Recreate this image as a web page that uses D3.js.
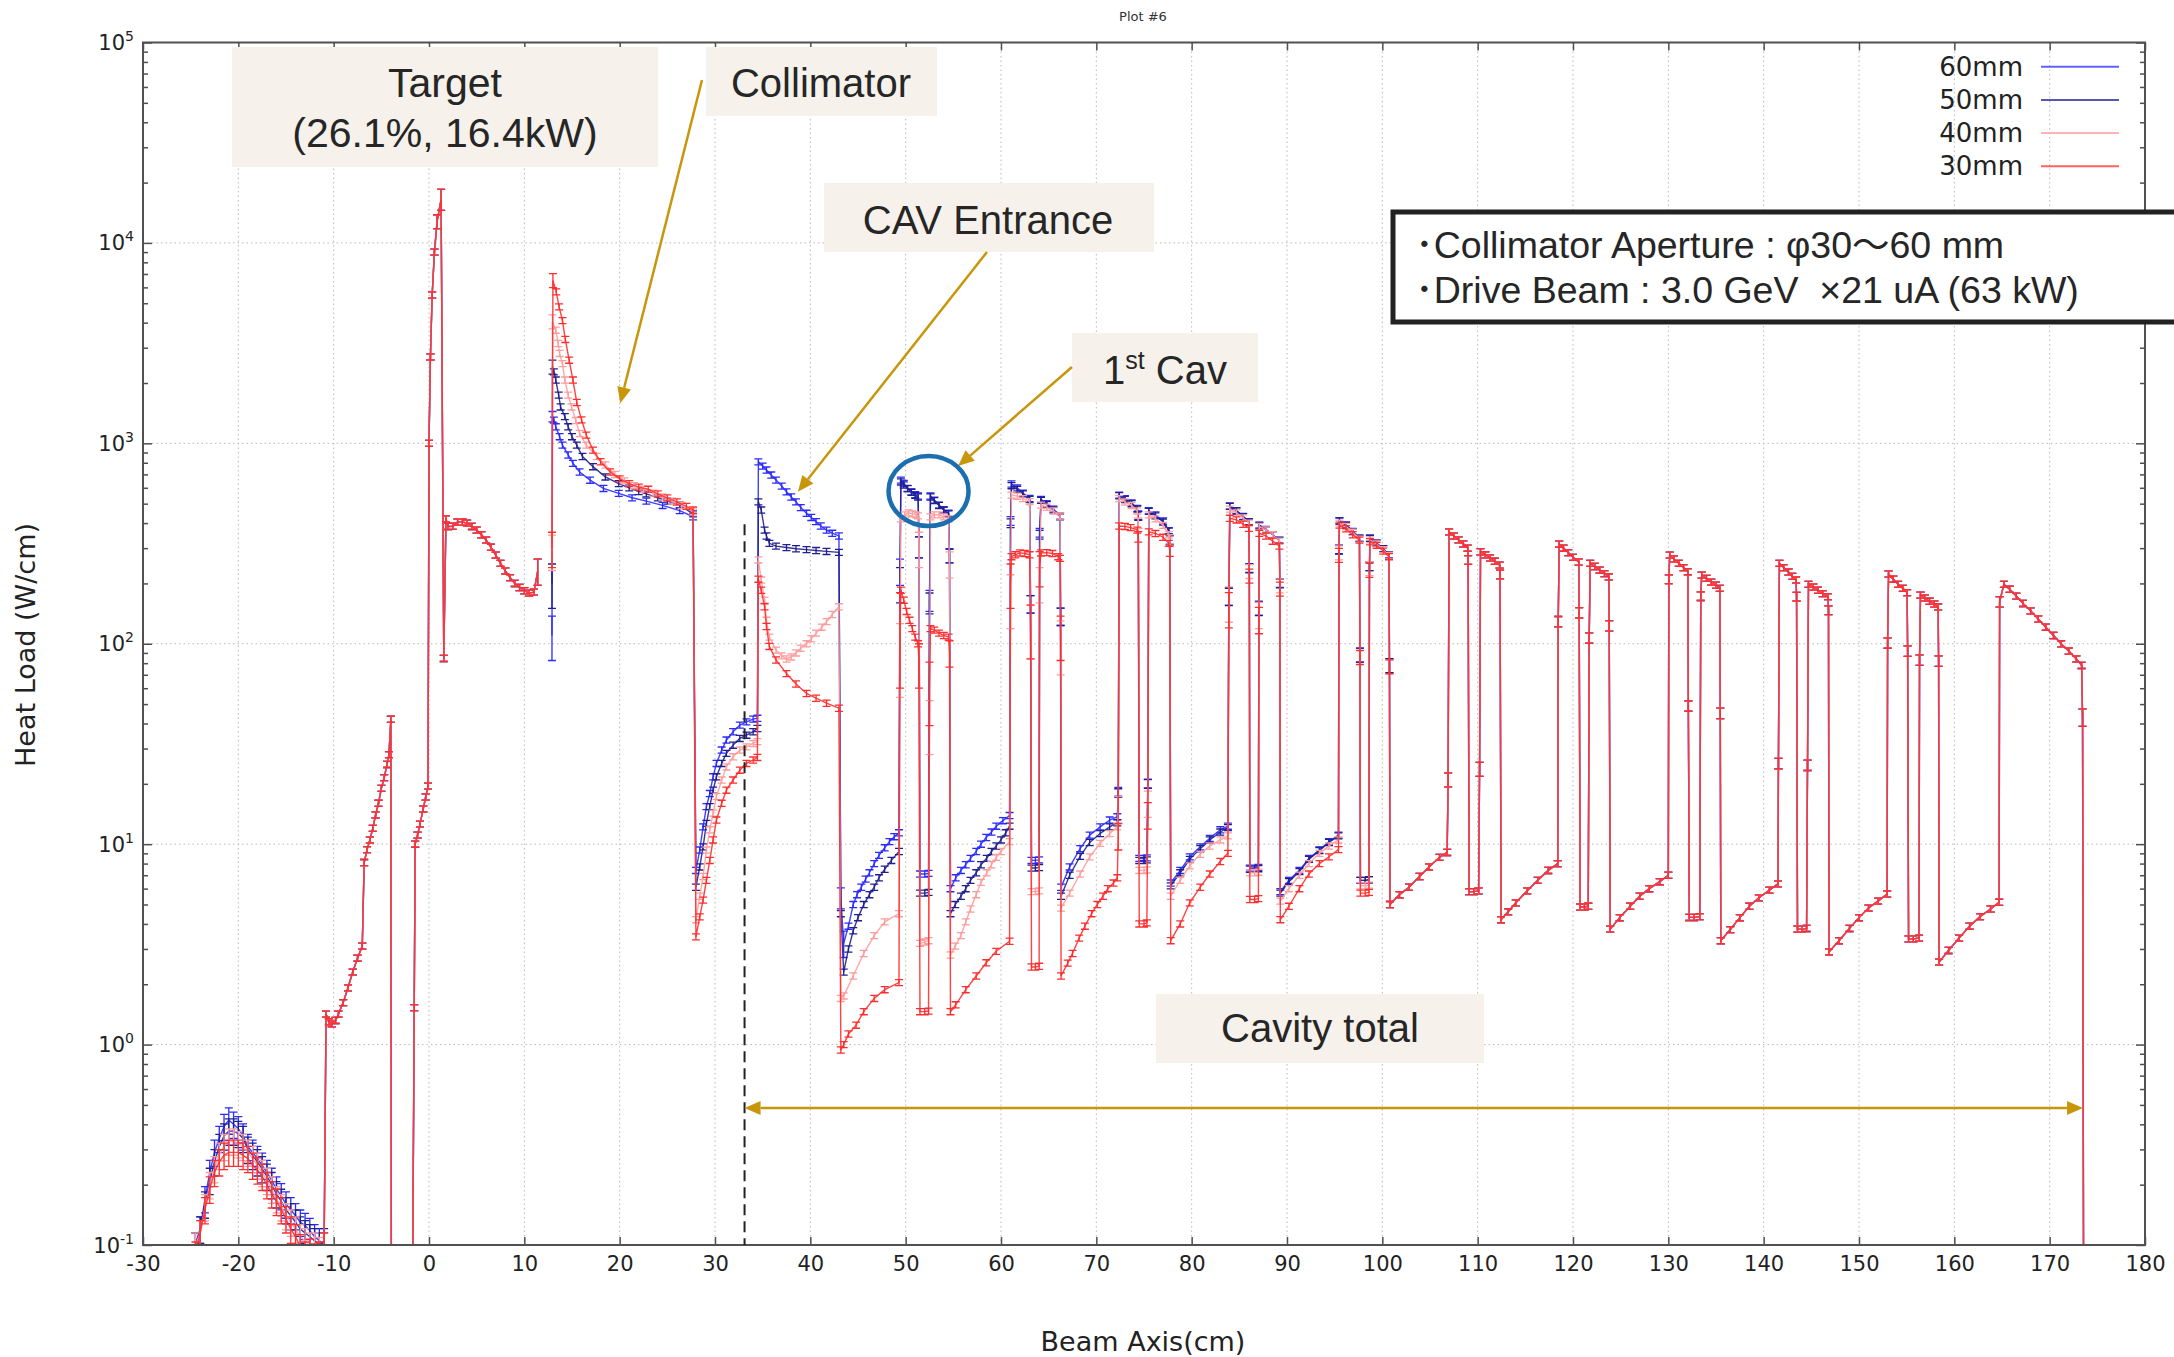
<!DOCTYPE html>
<html>
<head>
<meta charset="utf-8">
<script src="https://cdn.jsdelivr.net/npm/d3@7"></script>
<style>
  html, body { margin: 0; padding: 0; background: #fff; }
  svg { display: block; }
  text { white-space: pre; }
</style>
</head>
<body>
<svg id="chart" width="2174" height="1357"></svg>
<script>
// ---------------------------------------------------------------------------
// Heat load along the beam axis for four collimator apertures.
// Points are [beam axis (cm), heat load (W/cm), optional relative error].
// A value of 0 means no deposit (drawn down to the axis); null breaks the line.
// ---------------------------------------------------------------------------

const apertures = ['60mm', '50mm', '40mm', '30mm'];
const apertureColors = ['#2b2bff', '#20208e', '#ff9c9c', '#ff2e2e'];

// Upstream low-level tail (cm)
const tailX = [-24.5, -24, -23.5, -23, -22.5, -22, -21.5, -21, -20.5, -20, -19.5, -19, -18.5, -18,
               -17.5, -17, -16.5, -16, -15.5, -15, -14.5, -14, -13.5, -13, -12.5, -12, -11.5, -11];
const tail60 = [0.1, 0.12, 0.17, 0.23, 0.29, 0.34, 0.39, 0.42, 0.4, 0.38, 0.35, 0.31, 0.29, 0.27,
                0.25, 0.23, 0.21, 0.19, 0.176, 0.16, 0.15, 0.14, 0.13, 0.125, 0.118, 0.11, 0.105, 0.1];
const tail50 = [0.1, 0.12, 0.16, 0.21, 0.26, 0.31, 0.35, 0.37, 0.37, 0.36, 0.34, 0.3, 0.28, 0.26,
                0.24, 0.22, 0.2, 0.18, 0.165, 0.15, 0.14, 0.13, 0.12, 0.115, 0.11, 0.105, 0.1, 0.105];
const tail40 = [0.1, 0.115, 0.155, 0.2, 0.24, 0.28, 0.31, 0.33, 0.33, 0.32, 0.31, 0.29, 0.27, 0.25,
                0.23, 0.21, 0.19, 0.17, 0.155, 0.14, 0.13, 0.12, 0.11, 0.105, 0.1, 0.1, 0.095, 0.1];
const tail30 = [0.09, 0.115, 0.15, 0.19, 0.23, 0.26, 0.28, 0.29, 0.29, 0.29, 0.28, 0.27, 0.25, 0.237,
                0.22, 0.2, 0.18, 0.165, 0.15, 0.135, 0.12, 0.11, 0.098, 0.09, 0.093, 0.088, 0.09, 0.1];
const tailErr = 0.15;

// Target region, identical for every aperture
const targetPts = [
  [-10.8,1.42],[-10.5,1.3],[-10.2,1.27],[-9.8,1.32],[-9.5,1.42],[-9.0,1.62],[-8.5,1.92],[-8.0,2.3],[-7.5,2.7],[-7.0,3.1],
  [-6.8,8.1],[-6.5,9.4],[-6.2,10.5],[-5.9,12],[-5.6,14],[-5.3,16],[-5.0,19],[-4.7,21.5],[-4.4,25],[-4.2,28],[-4.0,42],
  [-3.95,0],[-1.7,0],[-1.55,1.53],[-1.45,10],[-1.2,11.1],[-0.95,12.6],[-0.6,15],[-0.35,17.2],[-0.1,19.5],
  [0.0,1000],[0.15,2700],[0.33,5500],[0.57,9000],[0.85,12800,0.08],[1.27,16500,0.12],[1.55,84.5],[1.78,420],
  [2.0,385],[2.5,386],[3.0,405],[3.5,405],[4.0,400],[4.5,385],[5.0,369],[5.5,350],[6.0,329],[6.5,303],[7.0,277],
  [7.5,252],[8.0,231],[8.5,214],[9.0,200],[9.5,191],[10.0,184],[10.5,179],[11.0,181],[11.4,230,0.15],[12.0,null]
];

// Collimator, CAV entrance and first five cavities: 60 mm aperture
const body60 = [
  [12.9,110,0.25],[12.95,1360,0.06],[13.1,1306],[13.3,1210],[13.7,1080],[14.0,980],[14.6,875],[15.1,795],[15.8,720],
  [16.9,655],[18.3,596],[19.9,563],[21.3,535],[22.8,515],[24.5,490],[26.3,462],[27.7,430],
  [28.0,7.4],[28.4,9.35],[28.75,12.2],[29.1,15.4],[29.45,17.9],[29.8,21.7],[30.15,25.3],[30.7,29.5],[31.2,33.1],
  [31.9,36.4],[32.6,39.3],[33.3,40.8],[34.0,42.1],[34.45,42.5],
  [34.55,809],[35.0,770],[35.4,736],[35.9,695],[36.4,656],[37.0,612],[37.5,573],[38.0,540],[38.5,511],[39.0,478],
  [39.6,448],[40.1,427],[40.6,407],[41.1,387],[41.7,369],[42.3,356],[43.0,345],
  [43.2,5.4,0.12],[43.5,3.2,0.15],[44.0,3.9],[44.5,5.0],[44.9,5.6],[45.35,6.1],[45.8,6.7],[46.2,7.2],[46.7,8.0],
  [47.2,8.8],[47.8,9.6],[48.3,10.3],[48.8,10.9],[49.3,11.4],
  [49.4,230,0.15],[49.5,656],[49.8,631],[50.2,596],[50.6,573],[51.0,555],[51.3,546],[51.4,305,0.12],[51.5,7.1],
  [52.0,7.1],[52.4,7.15],[52.5,165,0.12],[52.6,546],[53.0,521],[53.5,492],[54.0,465],[54.5,448],[54.6,275,0.08],
  [54.7,6.0],[55.25,6.8],[55.8,7.4],[56.3,7.9],[56.8,8.5],[57.4,9.2],[57.9,10.0],[58.45,10.8],[59.0,11.5],[59.5,12.3],
  [60.2,13.1],[60.9,13.9],
  [61.0,410,0.05],[61.1,627],[61.7,600],[62.3,565],[63.0,531],[63.1,158,0.1],[63.2,8.3],[63.6,8.3],[64.0,8.35],
  [64.05,358,0.05],[64.2,525],[64.8,500],[65.5,470],[66.2,434],[66.25,137,0.1],
  [66.3,6.1],[67.2,7.7],[68.3,9.5],[69.3,11.1],[70.4,12.2],[71.4,13.2],[72.2,13.7],
  [72.3,18.3,0.05],[72.4,552],[73.0,530],[73.7,505],[74.3,474],[74.4,438,0.05],[74.5,8.5],[75.0,8.5],[75.3,8.55],
  [75.4,20.1,0.05],[75.5,461],[76.2,440],[77.0,410],[77.6,367],[77.7,330,0.05],
  [77.8,6.4],[78.8,7.4],[79.8,8.65],[80.9,9.7],[81.9,10.7],[83.0,11.8],[83.8,12.3],
  [83.9,173,0.1],[84.0,487],[84.7,462],[85.4,432],[86.0,407],[86.05,239,0.05],[86.1,7.6],[86.6,7.6],[87.0,7.65],
  [87.05,151,0.08],[87.1,391],[87.8,372],[88.5,350],[89.2,329],[89.25,201,0.05],
  [89.3,5.8],[90.2,6.6],[91.3,7.4],[92.3,8.5],[93.4,9.35],[94.4,10.3],[95.4,11.1],
  [95.45,296,0.05],[95.5,411],[96.2,392],[96.9,364],[97.6,336],[97.65,88,0.08],[97.7,6.6],[98.2,6.6],[98.6,6.65],
  [98.65,244,0.05],[98.7,336],[99.4,318],[100.1,298],[100.7,277],[100.75,78,0.08]
];

// 50 mm aperture
const body50 = [
  [12.9,200,0.25],[12.95,2410,0.08],[13.1,2275],[13.3,2070],[13.6,1740],[13.8,1520],[14.25,1360],[14.6,1210],[15.0,1080],
  [15.5,980],[16.1,860],[17.2,765],[18.5,680],[19.9,630],[21.0,600],[22.0,575],[22.8,560],[24.0,535],[25.0,515],
  [26.3,492],[27.7,445],
  [28.0,6.1],[28.4,7.7],[28.75,9.7],[29.1,12.7],[29.45,15.4],[29.8,18.6],[30.15,21.7],[30.7,25.3],[31.2,28.4],
  [31.9,31.2],[32.6,33.7],[33.3,35.0],[34.0,36.4],[34.45,37.8],
  [34.55,511],[34.85,465],[35.2,369],[35.4,345],[35.7,317],[36.4,307],[37.5,302],[38.5,298],[39.6,295],[40.6,292],
  [41.7,289],[43.0,286],
  [43.2,4.5],[43.5,2.3],[44.0,3.0],[44.5,3.7],[45.0,4.3],[45.6,5.0],[46.2,5.6],[46.7,6.1],[47.2,6.8],[47.8,7.5],
  [48.5,8.3],[49.3,9.2],
  [49.4,200,0.2],[49.5,642],[49.8,620],[50.2,595],[50.6,570],[51.0,550],[51.3,540],[51.4,305,0.12],[51.5,5.7],
  [52.0,5.7],[52.4,5.75],[52.5,160,0.12],[52.6,540],[53.0,518],[53.5,490],[54.0,465],[54.5,445],[54.6,275,0.08],
  [54.7,4.5],[55.2,5.0],[55.8,5.5],[56.3,6.0],[56.8,6.6],[57.4,7.2],[57.9,7.9],[58.5,8.5],[59.0,9.2],[59.5,9.8],
  [60.0,10.5],[60.5,11.4],[60.9,12.3],
  [61.0,400,0.05],[61.1,615],[61.7,590],[62.3,560],[63.0,525],[63.1,158,0.1],[63.2,7.6],[63.6,7.6],[64.0,7.65],
  [64.05,350,0.05],[64.2,520],[64.8,495],[65.5,465],[66.2,430],[66.25,137,0.1],
  [66.3,5.5],[67.2,7.0],[68.3,8.7],[69.3,10.2],[70.4,11.3],[71.4,12.2],[72.2,12.8],
  [72.3,18,0.05],[72.4,548],[73.0,525],[73.7,500],[74.3,470],[74.4,435,0.05],[74.5,8.3],[75.0,8.3],[75.3,8.35],
  [75.4,20,0.05],[75.5,458],[76.2,435],[77.0,405],[77.6,365],[77.7,330,0.05],
  [77.8,6.2],[78.8,7.2],[79.8,8.4],[80.9,9.5],[81.9,10.5],[83.0,11.5],[83.8,12.1],
  [83.9,172,0.1],[84.0,485],[84.7,460],[85.4,430],[86.0,405],[86.05,238,0.05],[86.1,7.5],[86.6,7.5],[87.0,7.55],
  [87.05,150,0.08],[87.1,390],[87.8,370],[88.5,350],[89.2,328],[89.25,200,0.05],
  [89.3,5.7],[90.2,6.5],[91.3,7.3],[92.3,8.4],[93.4,9.3],[94.4,10.2],[95.4,11.0],
  [95.45,295,0.05],[95.5,410],[96.2,390],[96.9,362],[97.6,336],[97.65,88,0.08],[97.7,6.6],[98.2,6.6],[98.6,6.65],
  [98.65,244,0.05],[98.7,336],[99.4,318],[100.1,298],[100.7,277],[100.75,78,0.08]
];

// 40 mm aperture
const body40 = [
  [12.9,290,0.2],[12.95,4050,0.08],[13.3,3670],[13.55,3150],[13.7,2810],[14.0,2500],[14.25,2070],[14.6,1740],[14.95,1520],
  [15.4,1300],[15.8,1120],[16.5,980],[17.6,860],[18.5,780],[19.5,700],[20.5,650],[21.5,615],[22.5,590],[23.5,565],
  [24.5,540],[25.5,515],[26.5,490],[27.7,455],
  [28.0,4.2],[28.4,5.5],[28.75,6.9],[29.1,9.35],[29.45,11.8],[29.8,14.3],[30.15,17.3],[30.7,20.9],[31.2,24.3],
  [31.9,27.3],[32.6,29.5],[33.3,30.6],[34.0,31.8],[34.45,32.5],
  [34.55,262],[34.85,208],[35.2,165],[35.4,131],[35.7,108],[36.4,93],[37.0,87],[37.5,84],[38.0,86],[38.5,90],
  [39.0,95],[39.6,100],[40.1,106],[40.6,113],[41.2,121],[41.7,129],[42.3,140],[43.0,153],
  [43.2,1.7],[43.5,1.75],[44.5,2.2],[45.6,2.85],[46.7,3.5],[47.8,4.1],[49.3,4.5],
  [49.4,90,0.4],[49.5,420],[49.9,440],[50.3,450],[50.7,445],[51.1,440],[51.3,435],[51.4,300,0.2],[51.5,3.2],
  [52.0,3.25],[52.4,3.3],[52.5,40,0.3],[52.6,430],[53.0,440],[53.5,440],[54.0,430],[54.5,420],[54.6,250,0.15],
  [54.7,2.8],[55.2,3.1],[55.8,3.5],[56.3,4.1],[56.8,4.75],[57.4,5.6],[57.9,6.45],[58.5,7.2],[59.0,7.9],[59.5,8.6],
  [60.0,9.2],[60.9,10.3],
  [61.0,170,0.3],[61.1,552],[61.7,545],[62.3,530],[63.0,512],[63.1,120,0.3],[63.2,5.8],[63.6,5.8],[64.0,5.85],
  [64.05,200,0.2],[64.2,492],[64.8,480],[65.5,460],[66.2,434],[66.25,100,0.3],
  [66.3,4.8],[67.2,5.7],[68.3,7.1],[69.3,8.65],[70.4,10.1],[71.4,11.3],[72.2,12.2],
  [72.3,15,0.15],[72.4,530],[73.0,510],[73.7,490],[74.3,460],[74.4,400,0.06],[74.5,7.4],[75.0,7.4],[75.3,7.45],
  [75.4,16,0.15],[75.5,440],[76.2,420],[77.0,390],[77.6,350],[77.7,330,0.06],
  [77.8,5.5],[78.8,6.6],[79.8,7.8],[80.9,8.9],[81.9,9.8],[83.0,10.5],[83.8,11.0],
  [83.9,160,0.2],[84.0,470],[84.7,450],[85.4,425],[86.0,400],[86.05,230,0.08],[86.1,7.2],[86.6,7.2],[87.0,7.25],
  [87.05,140,0.15],[87.1,385],[87.8,370],[88.5,350],[89.2,325],[89.25,195,0.08],
  [89.3,5.2],[90.2,6.0],[91.3,7.0],[92.3,8.0],[93.4,9.0],[94.4,9.8],[95.4,10.5],
  [95.45,285,0.08],[95.5,400],[96.2,385],[96.9,360],[97.6,333],[97.65,86,0.08],[97.7,6.2],[98.2,6.2],[98.6,6.25],
  [98.65,238,0.08],[98.7,330],[99.4,315],[100.1,295],[100.7,275],[100.75,77,0.08]
];

// 30 mm aperture
const body30 = [
  [12.9,300,0.2],[13.0,6500,0.08],[13.35,5700],[13.65,4800],[14.0,4100],[14.3,3300],[14.7,2600],[15.1,2070],[15.5,1600],
  [16.0,1310],[16.5,1100],[17.2,925],[18.0,810],[19.0,720],[20.0,665],[21.0,630],[22.0,605],[23.0,590],[24.0,560],
  [25.0,535],[26.0,510],[27.0,485],[27.7,465],
  [28.0,3.45],[28.4,4.34],[28.75,5.26],[29.1,6.6],[29.45,8.3],[29.8,10.5],[30.15,13.2],[30.7,16],[31.2,18.6],
  [31.9,20.9],[32.6,23.4],[33.3,25.3],[34.0,26.3],[34.45,27.1],
  [34.55,210],[34.85,185],[35.2,153],[35.4,122],[35.7,97],[36.4,83],[37.5,71],[38.5,63],[39.6,56.5],[40.6,53.5],
  [41.7,50.5],[43.0,47.7],
  [43.2,0.94],[43.5,1.0],[44.0,1.13],[44.8,1.25],[45.6,1.46],[46.7,1.7],[47.8,1.88],[49.3,2.04],
  [49.4,120,0.5],[49.5,185],[49.8,165],[50.1,145],[50.4,131],[50.7,119],[51.0,108],[51.3,100],[51.4,80,0.25],
  [51.5,1.46],[52.0,1.46],[52.4,1.47],[52.5,60,0.35],[52.6,119],[53.0,117],[53.5,113],[54.0,110],[54.5,108],
  [54.6,90,0.15],
  [54.7,1.46],[55.25,1.58],[56.3,1.88],[57.4,2.2],[58.45,2.56],[59.5,2.92],[60.9,3.28],
  [61.0,200,0.25],[61.1,272],[61.5,278],[62.0,284],[62.5,282],[63.0,278],[63.1,120,0.3],[63.2,2.44],[63.6,2.44],
  [64.0,2.46],[64.05,240,0.2],[64.2,284],[64.8,285],[65.4,282],[66.0,272],[66.2,267],[66.25,110,0.25],
  [66.3,2.2],[67.0,2.55],[67.5,2.85],[68.2,3.4],[68.8,3.9],[69.5,4.5],[70.1,5.0],[70.7,5.5],[71.2,6.0],[71.8,6.4],
  [72.2,6.8],
  [72.3,11,0.15],[72.4,387],[73.0,385],[73.6,380],[74.3,369],[74.4,342,0.06],[74.5,4.0],[75.0,4.0],[75.3,4.05],
  [75.4,14,0.15],[75.5,362],[76.2,355],[77.0,340],[77.6,317],[77.7,290,0.06],
  [77.8,3.3],[78.8,4.0],[79.8,5.1],[80.9,6.1],[81.9,7.1],[83.0,8.2],[83.8,9.0],
  [83.9,150,0.2],[84.0,423],[84.7,415],[85.4,395],[86.0,377],[86.05,218,0.08],[86.1,5.3],[86.6,5.3],[87.0,5.35],
  [87.05,132,0.15],[87.1,356],[87.8,345],[88.5,325],[89.2,307],[89.25,188,0.08],
  [89.3,4.2],[90.2,4.9],[91.3,6.0],[92.3,7.1],[93.4,8.0],[94.4,8.65],[95.4,9.4],
  [95.45,277,0.08],[95.5,391],[96.2,375],[96.9,350],[97.6,329],[97.65,85.5,0.08],[97.7,5.7],[98.2,5.7],[98.6,5.75],
  [98.65,233,0.08],[98.7,323],[99.4,310],[100.1,290],[100.7,272],[100.75,77,0.08]
];

// Downstream cavities, identical for every aperture
const downstreamPts = [
  [100.8,5.0],[101.8,5.6],[102.8,6.1],[103.9,6.9],[104.9,7.7],[106.0,8.6],[106.8,9.1],
  [106.9,21,0.08],[107.0,362],[107.5,345],[108.0,330],[108.5,315],[108.95,300],[109.0,262,0.05],[109.1,5.8],
  [109.6,5.8],[110.1,5.85],[110.2,23.7,0.08],[110.3,288],[110.8,278],[111.3,268],[111.8,258],[112.3,247],[112.35,222,0.05],
  [112.45,4.2],[113.2,4.6],[114.0,5.1],[115.2,5.85],[116.3,6.6],[117.4,7.4],[118.4,8.0],
  [118.45,129,0.06],[118.55,314],[119.0,300],[119.5,285],[120.0,270],[120.6,256],[120.65,143,0.06],[120.75,4.86],
  [121.2,4.86],[121.6,4.9],[121.7,107,0.06],[121.8,252],[122.3,243],[122.8,233],[123.3,224],[123.75,216],[123.8,123,0.06],
  [123.9,3.77],[124.9,4.3],[126.0,4.9],[127.0,5.5],[128.0,6.0],[129.1,6.5],[130.0,7.0],
  [130.05,210,0.05],[130.15,277],[130.6,265],[131.1,252],[131.6,240],[132.05,229],[132.1,49,0.06],[132.2,4.31],
  [132.7,4.31],[133.3,4.35],[133.4,173,0.05],[133.5,220],[134.0,212],[134.5,203],[135.0,196],[135.4,189],[135.45,45,0.06],
  [135.5,3.3],[136.5,3.75],[137.5,4.3],[138.5,4.9],[139.5,5.4],[140.6,5.9],[141.5,6.34],
  [141.55,25.3,0.06],[141.65,252],[142.1,240],[142.6,228],[143.0,217],[143.4,208],[143.45,172,0.05],[143.55,3.77],
  [144.0,3.77],[144.5,3.8],[144.6,24.8,0.06],[144.7,198],[145.2,192],[145.7,185],[146.2,178],[146.75,172],[146.8,147,0.05],
  [146.85,2.9],[147.9,3.3],[149.0,3.8],[150.0,4.3],[151.0,4.8],[152.0,5.2],[152.95,5.64],
  [153.0,101,0.06],[153.1,223],[153.6,210],[154.1,198],[154.6,189],[155.05,180],[155.1,92,0.06],[155.2,3.37],
  [155.7,3.37],[156.3,3.4],[156.35,83,0.06],[156.45,175],[156.9,169],[157.4,163],[157.9,158],[158.3,153],[158.35,82,0.06],
  [158.4,2.58],[159.4,2.95],[160.5,3.4],[161.6,3.9],[162.7,4.35],[163.8,4.75],[164.7,5.13],
  [164.75,162,0.06],[165.2,198],[165.8,187],[166.5,173],[167.2,159],[168.0,146],[168.8,133],[169.6,121],[170.4,110],
  [171.2,100],[172.0,92],[172.8,84],[173.35,78],[173.45,43,0.1],[173.55,0],[176,0]
];

// Axis ticks
const xTickValues = [-30, -20, -10, 0, 10, 20, 30, 40, 50, 60, 70, 80, 90, 100, 110, 120, 130, 140, 150, 160, 170, 180];
const yDecades = [-1, 0, 1, 2, 3, 4, 5];

// ---------------------------------------------------------------------------
const X0 = 143, X1 = 2145, Y0 = 42.5, Y1 = 1245;
const x = d3.scaleLinear().domain([-30, 180]).range([X0, X1]);
const y = d3.scaleLog().domain([0.1, 1e5]).range([Y1, Y0]);
const svg = d3.select('#chart');
const FONT = "'DejaVu Sans', sans-serif";
const SANS = "'Liberation Sans', Arial, 'Noto Sans CJK JP', sans-serif";

const tailPts = vals => tailX.map((t, i) => [t, vals[i], tailErr]);
const tails = [tail60, tail50, tail40, tail30];
const bodies = [body60, body50, body40, body30];
const series = apertures.map((name, i) => ({
  name, color: apertureColors[i],
  pts: [...tailPts(tails[i]), ...targetPts, ...bodies[i], ...downstreamPts]
}));

// grid
const grid = svg.append('g').attr('stroke', '#b9b9b9').attr('stroke-width', 1).attr('stroke-dasharray', '1.5,3');
xTickValues.forEach(t => grid.append('line').attr('x1', x(t)).attr('x2', x(t)).attr('y1', Y0).attr('y2', Y1));
yDecades.forEach(k => grid.append('line').attr('x1', X0).attr('x2', X1).attr('y1', y(10 ** k)).attr('y2', y(10 ** k)));

// data
svg.append('defs').append('clipPath').attr('id', 'plotClip')
  .append('rect').attr('x', X0).attr('y', Y0).attr('width', X1 - X0).attr('height', Y1 - Y0);
const plot = svg.append('g').attr('clip-path', 'url(#plotClip)');
const yPos = v => (v > 0 ? y(v) : Y1 + 6);
const line = d3.line().defined(d => d[1] !== null).x(d => x(d[0])).y(d => yPos(d[1]));
const defaultErr = 0.035;
const errPath = pts => pts.filter(d => d[1] !== null && d[1] > 0).map(d => {
  const e = d.length > 2 ? d[2] : defaultErr;
  const cx = x(d[0]), lo = y(d[1] * (1 - e)), hi = y(d[1] * (1 + e));
  return `M${cx},${lo}V${hi}M${cx - 4},${lo}h8M${cx - 4},${hi}h8`;
}).join('');

series.forEach(s => {
  const g = plot.append('g');
  g.append('path').attr('d', line(s.pts)).attr('fill', 'none')
    .attr('stroke', s.color).attr('stroke-width', 1.4).attr('stroke-opacity', 0.9);
  g.append('path').attr('d', errPath(s.pts)).attr('fill', 'none')
    .attr('stroke', s.color).attr('stroke-width', 1.3);
});

// axes (ticks point inward, mirrored on all sides)
const axisColor = '#505050';
const styleAxis = g => { g.select('.domain').remove(); g.selectAll('line').attr('stroke', axisColor).attr('stroke-width', 1.5); };
const yMajors = yDecades.map(k => 10 ** k);
const yMinors = [];
yDecades.slice(0, -1).forEach(k => { for (let m = 2; m <= 9; m++) yMinors.push(m * 10 ** k); });

svg.append('g').attr('transform', `translate(0,${Y1})`)
  .call(d3.axisBottom(x).tickValues(xTickValues).tickSize(-8).tickPadding(11).tickFormat(d => String(d)))
  .call(styleAxis)
  .call(g => g.selectAll('text').attr('font-family', FONT).attr('font-size', 21).attr('fill', '#222'));
svg.append('g').attr('transform', `translate(0,${Y0})`)
  .call(d3.axisTop(x).tickValues(xTickValues).tickSize(-8).tickFormat(''))
  .call(styleAxis);
svg.append('g').attr('transform', `translate(${X0},0)`)
  .call(d3.axisLeft(y).tickValues(yMajors).tickSize(-9).tickFormat('')).call(styleAxis);
svg.append('g').attr('transform', `translate(${X0},0)`)
  .call(d3.axisLeft(y).tickValues(yMinors).tickSize(-5).tickFormat('')).call(styleAxis);
svg.append('g').attr('transform', `translate(${X1},0)`)
  .call(d3.axisRight(y).tickValues(yMajors).tickSize(-9).tickFormat('')).call(styleAxis);
svg.append('g').attr('transform', `translate(${X1},0)`)
  .call(d3.axisRight(y).tickValues(yMinors).tickSize(-5).tickFormat('')).call(styleAxis);

// y tick labels as powers of ten
yDecades.forEach(k => {
  const t = svg.append('text').attr('x', 134).attr('y', y(10 ** k) + 7.5)
    .attr('text-anchor', 'end').attr('font-family', FONT).attr('font-size', 21).attr('fill', '#222');
  t.append('tspan').text('10');
  t.append('tspan').attr('dy', -9).attr('font-size', 14).text(String(k));
});

// frame
svg.append('rect').attr('x', X0).attr('y', Y0).attr('width', X1 - X0).attr('height', Y1 - Y0)
  .attr('fill', 'none').attr('stroke', axisColor).attr('stroke-width', 2);

// titles
svg.append('text').attr('x', 1143).attr('y', 21).attr('text-anchor', 'middle')
  .attr('font-family', FONT).attr('font-size', 13).attr('fill', '#333').text('Plot #6');
svg.append('text').attr('transform', 'translate(35,645) rotate(-90)').attr('text-anchor', 'middle')
  .attr('font-family', FONT).attr('font-size', 27).attr('fill', '#222').text('Heat Load (W/cm)');
svg.append('text').attr('x', 1143).attr('y', 1351).attr('text-anchor', 'middle')
  .attr('font-family', FONT).attr('font-size', 27).attr('fill', '#222').text('Beam Axis(cm)');

// legend
series.forEach((s, i) => {
  const ly = 66.7 + i * 33.2;
  svg.append('text').attr('x', 2023).attr('y', ly + 9).attr('text-anchor', 'end')
    .attr('font-family', FONT).attr('font-size', 26).attr('fill', '#222').text(s.name);
  svg.append('line').attr('x1', 2041).attr('x2', 2119).attr('y1', ly).attr('y2', ly)
    .attr('stroke', s.color).attr('stroke-width', 2).attr('stroke-opacity', 0.75);
});

// condition box
svg.append('rect').attr('x', 1393).attr('y', 212).attr('width', 820).attr('height', 110)
  .attr('fill', '#fff').attr('stroke', '#222').attr('stroke-width', 5);
svg.append('text').attr('x', 1415).attr('y', 258).attr('font-family', SANS).attr('font-size', 37.5)
  .attr('fill', '#262626').text('･Collimator Aperture : φ30〜60 mm');
svg.append('text').attr('x', 1415).attr('y', 303).attr('font-family', SANS).attr('font-size', 37.5)
  .attr('fill', '#262626').text('･Drive Beam : 3.0 GeV  ×21 uA (63 kW)');

// annotations
const gold = '#c8960a';
const noteFill = '#f6f2eb';
const arrow = (x1, y1, x2, y2, w = 2.5) => {
  const a = Math.atan2(y2 - y1, x2 - x1), L = 16, hw = 7;
  const bx = x2 - L * Math.cos(a), by = y2 - L * Math.sin(a);
  svg.append('line').attr('x1', x1).attr('y1', y1).attr('x2', bx).attr('y2', by)
    .attr('stroke', gold).attr('stroke-width', w);
  svg.append('path').attr('fill', gold)
    .attr('d', `M${x2},${y2}L${bx - hw * Math.sin(a)},${by + hw * Math.cos(a)}L${bx + hw * Math.sin(a)},${by - hw * Math.cos(a)}Z`);
};
const note = (bx, by, bw, bh) => svg.append('rect').attr('x', bx).attr('y', by).attr('width', bw).attr('height', bh).attr('fill', noteFill);
const noteText = (tx, ty, str, size = 40) => svg.append('text').attr('x', tx).attr('y', ty).attr('text-anchor', 'middle')
  .attr('font-family', SANS).attr('font-size', size).attr('fill', '#262626').text(str);

note(232, 47, 426, 120);
noteText(445, 97, 'Target', 41);
noteText(445, 147, '(26.1%, 16.4kW)', 41);

note(706, 47, 231, 69);
noteText(821, 97, 'Collimator');
arrow(702, 80, x(20.06), y(1585));

note(824, 183, 330, 69);
noteText(988, 234, 'CAV Entrance');
arrow(987, 252, x(38.7), y(573));

note(1072, 333, 186, 69);
const cav = svg.append('text').attr('x', 1165).attr('y', 384).attr('text-anchor', 'middle')
  .attr('font-family', SANS).attr('font-size', 40).attr('fill', '#262626');
cav.append('tspan').text('1');
cav.append('tspan').attr('dy', -15).attr('font-size', 25).text('st');
cav.append('tspan').attr('dy', 15).text(' Cav');
arrow(1072, 367, x(55.5), y(770));

svg.append('ellipse').attr('cx', x(52.4)).attr('cy', y(578)).attr('rx', 40).attr('ry', 35)
  .attr('fill', 'none').attr('stroke', '#1b6fae').attr('stroke-width', 4.5);

note(1156, 994, 328, 69);
noteText(1320, 1042, 'Cavity total');

// cavity region marker
svg.append('line').attr('x1', x(33.1)).attr('x2', x(33.1)).attr('y1', y(395)).attr('y2', Y1)
  .attr('stroke', '#222').attr('stroke-width', 2).attr('stroke-dasharray', '11,6');
const ay = y(0.482);
arrow(x(90), ay, x(33.1), ay);
arrow(x(90), ay, x(173.5), ay);
</script>
</body>
</html>
